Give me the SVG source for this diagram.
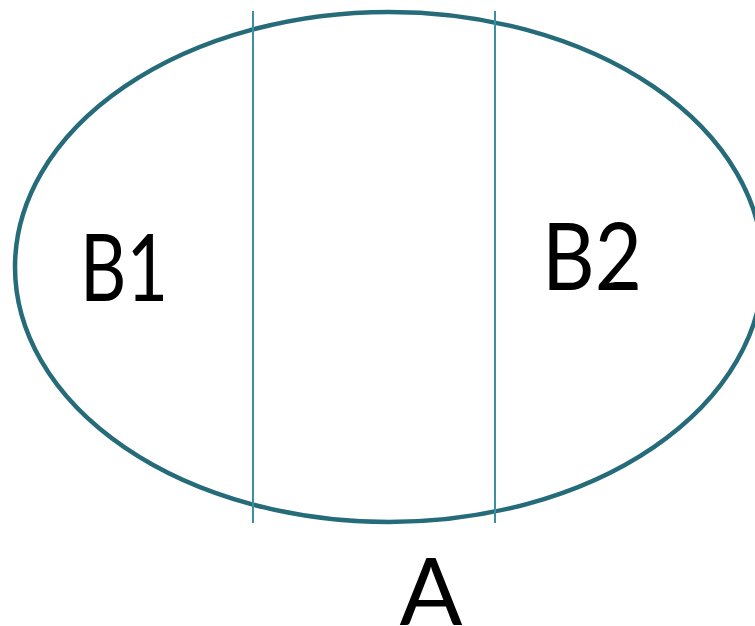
<svg xmlns="http://www.w3.org/2000/svg" width="755" height="626" viewBox="0 0 755 626">
<style>
.lbl{font-family:Lato,"Open Sans","Liberation Sans",sans-serif;font-size:93px;fill:#000}
.div{stroke:#3a8fa0;stroke-width:2;fill:none}
</style>
<rect width="755" height="626" fill="#fff"/>
<g id="A">
<ellipse cx="389" cy="267" rx="374" ry="255" fill="none" stroke="#256b7a" stroke-width="4.5"/>
<text class="lbl" x="431" y="625" text-anchor="middle">A</text>
</g>
<g id="connectors">
<line class="div" x1="253" y1="11" x2="253" y2="523"/>
<line class="div" x1="495" y1="11" x2="495" y2="523"/>
</g>
<g id="B1">
<text class="lbl" x="80" y="301" textLength="88" lengthAdjust="spacingAndGlyphs">B1</text>
</g>
<g id="B2">
<text class="lbl" x="542" y="290" textLength="100" lengthAdjust="spacingAndGlyphs">B2</text>
</g>
</svg>
